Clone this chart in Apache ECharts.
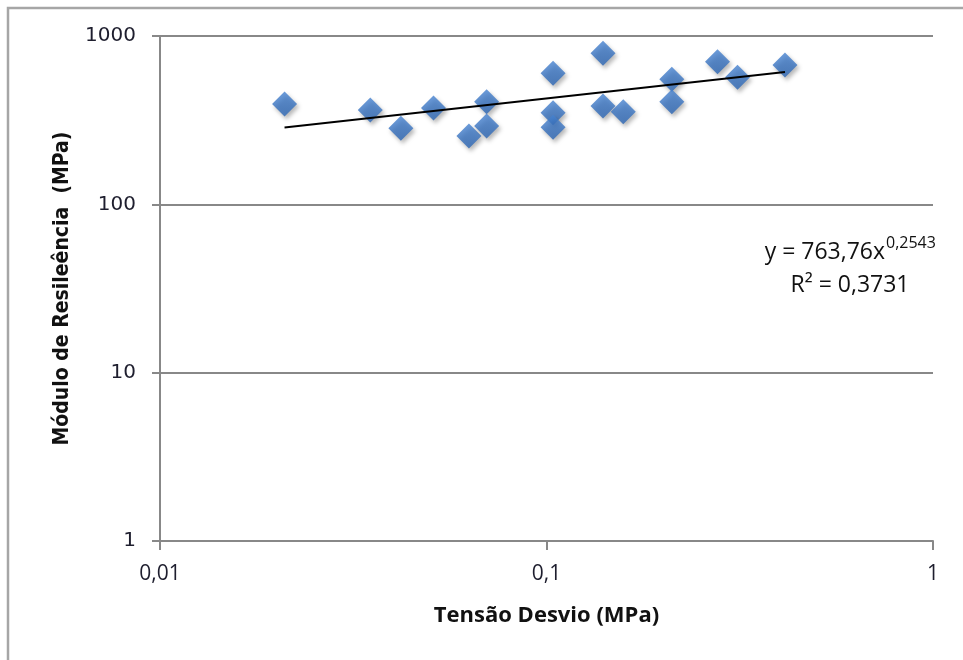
<!DOCTYPE html>
<html>
<head>
<meta charset="utf-8">
<script src="https://cdn.jsdelivr.net/npm/echarts@6/dist/echarts.min.js"></script>
<style>
  html, body { margin: 0; padding: 0; background: #fff; }
  #chart { width: 963px; height: 660px; }
</style>
</head>
<body>
<div id="chart"></div>
<script>
// Tensão desvio (MPa) x módulo de resiliência (MPa)
var tensao = [0.021, 0.035, 0.042, 0.051, 0.063, 0.070, 0.070, 0.104, 0.104, 0.104,
              0.140, 0.140, 0.158, 0.211, 0.211, 0.277, 0.312, 0.414];
var modulo = [394, 363, 283, 373, 255, 407, 292, 600, 350, 287,
              789, 384, 355, 553, 407, 704, 568, 672];

// power trendline shown in the chart: y = a * x^b
var trendA = 763.76;
var trendB = 0.2543;
var trendLabel = 'y = 763,76x';
var trendExp = '0,2543';
var r2Label = 'R² = 0,3731';

var points = [];
for (var i = 0; i < tensao.length; i++) {
  points.push([tensao[i], modulo[i]]);
}
var xMin = Math.min.apply(null, tensao);
var xMax = Math.max.apply(null, tensao);
var trend = [
  [xMin, trendA * Math.pow(xMin, trendB)],
  [xMax, trendA * Math.pow(xMax, trendB)]
];

function fmt(v) {
  return String(+(+v).toPrecision(4)).replace('.', ',');
}

var gridColor = '#888888';
var calibri = "'Open Sans', 'Noto Sans', sans-serif";

var chart = echarts.init(document.getElementById('chart'));
chart.setOption({
  animation: false,
  backgroundColor: '#fff',
  grid: { left: 160, right: 30, top: 36, bottom: 119 },
  xAxis: {
    type: 'log',
    logBase: 10,
    min: 0.01,
    max: 1,
    name: 'Tensão Desvio (MPa)',
    nameLocation: 'middle',
    nameGap: 64,
    nameTextStyle: { fontFamily: calibri, fontWeight: 'bold', fontSize: 22, color: '#111' },
    axisLine: { lineStyle: { color: gridColor, width: 2 } },
    axisTick: { show: true, length: 9, lineStyle: { color: gridColor, width: 2 } },
    axisLabel: { margin: 23, fontFamily: calibri, fontSize: 21, color: '#1e1e2e', formatter: fmt },
    splitLine: { show: false },
    minorTick: { show: false }
  },
  yAxis: {
    type: 'log',
    logBase: 10,
    min: 1,
    max: 1000,
    name: 'Módulo de Resileência  (MPa)',
    nameLocation: 'middle',
    nameGap: 87,
    nameTextStyle: {
      fontFamily: "'Liberation Sans Narrow', 'DejaVu Sans Condensed', 'Liberation Sans', sans-serif",
      fontWeight: 'bold', fontSize: 21, color: '#111'
    },
    axisLine: { show: true, lineStyle: { color: gridColor, width: 2 } },
    axisTick: { show: true, length: 8, lineStyle: { color: gridColor, width: 2 } },
    axisLabel: { margin: 24, fontFamily: "'DejaVu Sans', sans-serif", fontSize: 20, color: '#1e1e2e', formatter: fmt },
    splitLine: { show: true, lineStyle: { color: gridColor, width: 2 } }
  },
  series: [
    {
      type: 'scatter',
      data: points,
      symbol: 'diamond',
      symbolSize: [25, 25],
      itemStyle: {
        color: new echarts.graphic.LinearGradient(0, 0, 0, 1, [
          { offset: 0, color: '#4682d0' },
          { offset: 1, color: '#2c66b4' }
        ]),
        shadowBlur: 4,
        shadowOffsetX: 2,
        shadowOffsetY: 3,
        shadowColor: 'rgba(0,0,0,0.35)'
      },
      z: 2
    },
    {
      type: 'line',
      data: trend,
      symbol: 'none',
      lineStyle: { color: '#000', width: 2 },
      z: 3
    }
  ],
  graphic: [
    {
      type: 'rect',
      shape: { x: 8, y: 8, width: 1000, height: 700 },
      style: { fill: 'none', stroke: '#a6a6a6', lineWidth: 2.5 },
      silent: true
    },
    {
      type: 'text',
      x: 885, y: 252,
      style: {
        text: trendLabel, font: '23px ' + calibri, fill: '#111',
        align: 'right', verticalAlign: 'middle', textAlign: 'right', textVerticalAlign: 'middle'
      }
    },
    {
      type: 'text',
      x: 886, y: 243,
      style: {
        text: trendExp, font: '16px ' + calibri, fill: '#111',
        align: 'left', verticalAlign: 'middle', textAlign: 'left', textVerticalAlign: 'middle'
      }
    },
    {
      type: 'text',
      x: 850, y: 285,
      style: {
        text: r2Label, font: '23px ' + calibri, fill: '#111',
        align: 'center', verticalAlign: 'middle', textAlign: 'center', textVerticalAlign: 'middle'
      }
    }
  ]
});
</script>
</body>
</html>
